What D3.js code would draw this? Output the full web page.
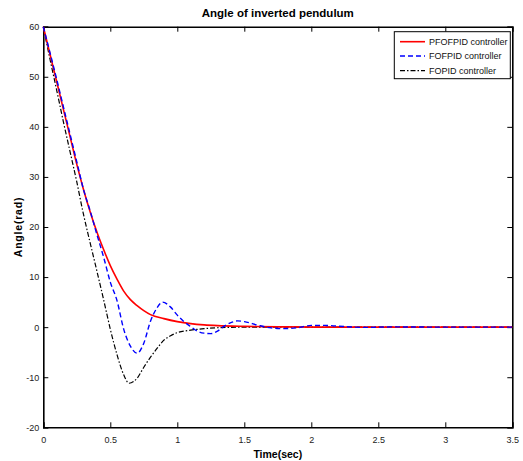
<!DOCTYPE html>
<html><head><meta charset="utf-8">
<script src="https://cdn.jsdelivr.net/npm/d3@7"></script>
<style>body{margin:0;background:#fff}svg{display:block}text{font-family:"Liberation Sans",Arial,sans-serif}</style>
</head><body><svg id="c" width="523" height="461"></svg>
<script>
const title = "Angle of inverted pendulum";
const xLabel = "Time(sec)";
const yLabel = "Angle(rad)";
const xTicks = [0,0.5,1,1.5,2,2.5,3,3.5];
const yTicks = [-20,-10,0,10,20,30,40,50,60];
const seriesNames = ["PFOFPID controller","FOFPID controller","FOPID controller"];

const redT = [0,0.05,0.1,0.15,0.2,0.25,0.3,0.35,0.4,0.45,0.5,0.55,0.6,0.65,0.7,0.75,0.8,0.9,1.0,1.1,1.2,1.3,1.5,1.8,2.2,3.5];
const redV = [60,54.5,49,43.5,38,32.5,27.5,23,19,15.5,12.3,9.6,7.2,5.5,4.3,3.3,2.5,1.7,1.1,0.7,0.45,0.3,0.15,0.05,0,0];

const blueT = [0,0.05,0.1,0.15,0.2,0.25,0.3,0.35,0.4,0.45,0.5,0.55,0.6,0.65,0.7,0.75,0.8,0.85,0.89,0.95,1.0,1.05,1.1,1.15,1.2,1.25,1.3,1.35,1.4,1.45,1.5,1.6,1.7,1.8,1.9,2.0,2.1,2.2,2.4,2.6,3.0,3.5];
const blueV = [60,54.8,49.5,44,38.5,33,27.5,23.2,18.5,14,9,5.3,-0.4,-3.8,-5.2,-3.2,1.2,3.9,5.0,4.0,2.4,1.1,0.1,-0.8,-1.2,-1.3,-0.8,0.2,0.9,1.25,1.1,0.4,-0.15,-0.3,-0.1,0.35,0.35,0.2,-0.05,0.05,0,0];

const blackT = [0,0.05,0.1,0.15,0.2,0.25,0.3,0.35,0.4,0.45,0.5,0.55,0.6,0.64,0.7,0.75,0.8,0.85,0.9,0.95,1.0,1.1,1.2,1.3,1.5,3.5];
const blackV = [60,53.5,47.3,41,35,29,22.5,16.8,11.2,5.5,-0.4,-5.5,-9.5,-11.2,-10.2,-8,-6,-4.2,-2.6,-1.7,-1.1,-0.6,-0.3,-0.12,0,0];

const svg = d3.select("#c");
const L = 43.3, R = 512.3, T = 26.7, B = 427.3;
const x = d3.scaleLinear().domain([0,3.5]).range([L,R]);
const y = d3.scaleLinear().domain([-20,60]).range([B,T]);

// axes with inward ticks
const fmt = d => String(d);
const gB = svg.append("g").attr("transform",`translate(0,${B})`).call(d3.axisBottom(x).tickValues(xTicks).tickSize(-5).tickPadding(9).tickFormat(fmt));
const gT = svg.append("g").attr("transform",`translate(0,${T})`).call(d3.axisTop(x).tickValues(xTicks).tickSize(-5).tickFormat(""));
const gL = svg.append("g").attr("transform",`translate(${L},0)`).call(d3.axisLeft(y).tickValues(yTicks).tickSize(-5).tickPadding(4).tickFormat(fmt));
const gR = svg.append("g").attr("transform",`translate(${R},0)`).call(d3.axisRight(y).tickValues(yTicks).tickSize(-5).tickFormat(""));
[gB,gT,gL,gR].forEach(g=>{
  g.select(".domain").attr("stroke","#000").attr("stroke-width",1.6);
  g.selectAll(".tick line").attr("stroke","#000").attr("stroke-width",1);
  g.selectAll("text").attr("font-size",9).attr("fill","#222").attr("font-family","Liberation Sans, Arial, sans-serif");
});

const line = d3.line().x(d=>x(d[0])).y(d=>y(d[1])).curve(d3.curveMonotoneX);
const series = [
  {t:redT, v:redV, color:"#ff0000", dash:null, w:1.6},
  {t:blueT, v:blueV, color:"#0000ff", dash:"5,3", w:1.4},
  {t:blackT, v:blackV, color:"#000000", dash:"5,2,1.5,2", w:1.2}
];
const plot = svg.append("g");
// draw black first, then blue, then red? draw in order black, red, blue like reference
[2,0,1].forEach(i=>{
  const s = series[i];
  plot.append("path").datum(s.t.map((t,j)=>[t,s.v[j]]))
    .attr("d",line).attr("fill","none").attr("stroke",s.color).attr("stroke-width",s.w)
    .attr("stroke-dasharray",s.dash);
});

// legend
const lg = svg.append("g");
lg.append("rect").attr("x",394.3).attr("y",31.7).attr("width",116).attr("height",47).attr("fill","#fff").attr("stroke","#000").attr("stroke-width",1);
const rowsY = [41.7,56,70.7];
series.forEach((s,i)=>{
  lg.append("line").attr("x1",400).attr("x2",425).attr("y1",rowsY[i]).attr("y2",rowsY[i])
    .attr("stroke",s.color).attr("stroke-width",s.w).attr("stroke-dasharray",s.dash);
  lg.append("text").attr("x",429).attr("y",rowsY[i]+3.2).attr("font-size",9).attr("fill","#111").text(seriesNames[i]);
});

svg.append("text").attr("x",(L+R)/2).attr("y",16.5).attr("text-anchor","middle").attr("font-size",11.5).attr("font-weight","bold").text(title);
svg.append("text").attr("x",(L+R)/2).attr("y",458).attr("text-anchor","middle").attr("font-size",10.5).attr("font-weight","bold").text(xLabel);
svg.append("text").attr("transform",`translate(21.5,${(T+B)/2}) rotate(-90)`).attr("text-anchor","middle").attr("font-size",10.5).attr("font-weight","bold").attr("letter-spacing",0.8).text(yLabel);
</script></body></html>
